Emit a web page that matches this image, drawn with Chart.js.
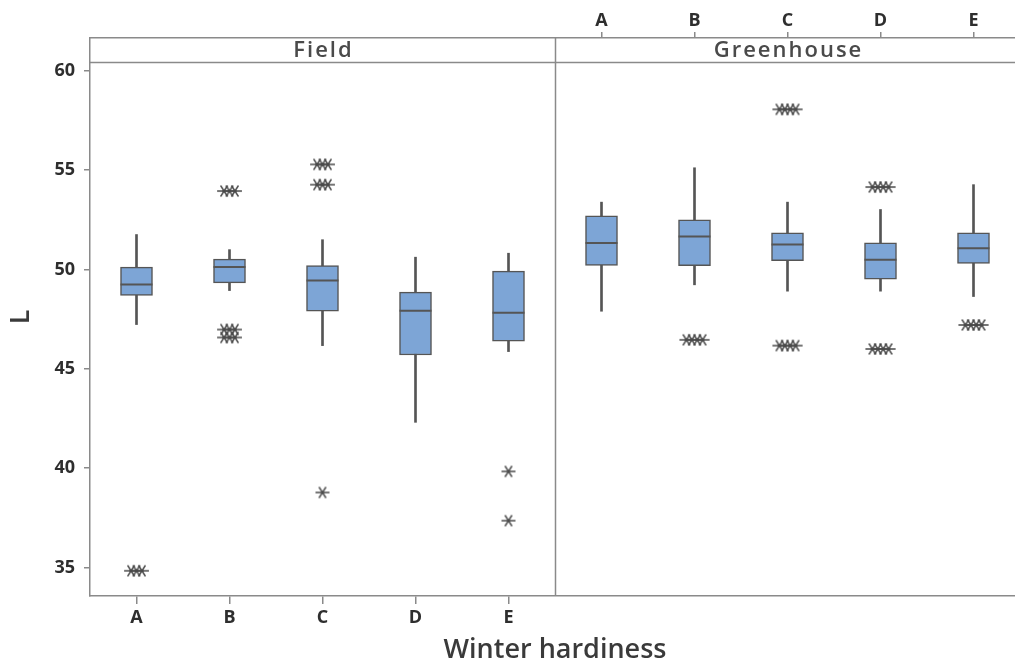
<!DOCTYPE html>
<html><head><meta charset="utf-8">
<script src="https://cdn.jsdelivr.net/npm/chart.js@4.4.0/dist/chart.umd.min.js"></script>
<style>
html,body{margin:0;padding:0;background:#fff;overflow:hidden}
#wrap{width:1015px;height:671px;overflow:hidden;position:relative;background:#fff}
canvas{display:block}
</style></head><body>
<div id="wrap"><canvas id="c" width="1040" height="671"></canvas></div>
<script>
// ---------------- data ----------------
const panels = ['Field', 'Greenhouse'];
const categories = ['A', 'B', 'C', 'D', 'E'];
const yTickValues = [35, 40, 45, 50, 55, 60];
const yAxisMin = 33.57;
const yAxisMax = 61.65;

const fieldWhiskerLow  = [47.23, 48.94, 46.17, 42.31, 45.87];
const fieldQ1          = [48.69, 49.33, 47.90, 45.70, 46.39];
const fieldMedian      = [49.24, 50.12, 49.45, 47.92, 47.82];
const fieldQ3          = [50.12, 50.52, 50.20, 48.86, 49.92];
const fieldWhiskerHigh = [51.76, 51.00, 51.50, 50.62, 50.82];
const fieldOutliers = [
  [34.84, 34.84, 34.84],
  [53.95, 53.95, 53.95, 46.98, 46.98, 46.98, 46.58, 46.58, 46.58],
  [55.29, 55.29, 55.29, 54.27, 54.27, 54.27, 38.78],
  [],
  [39.84, 37.36]
];

const greenWhiskerLow  = [47.90, 49.23, 48.91, 48.91, 48.64];
const greenQ1          = [50.20, 50.19, 50.45, 49.51, 50.30];
const greenMedian      = [51.34, 51.66, 51.26, 50.49, 51.07];
const greenQ3          = [52.70, 52.50, 51.85, 51.34, 51.85];
const greenWhiskerHigh = [53.39, 55.12, 53.39, 53.02, 54.27];
const greenOutliers = [
  [],
  [46.46, 46.46, 46.46, 46.46],
  [58.06, 58.06, 58.06, 58.06, 46.17, 46.17, 46.17, 46.17],
  [54.15, 54.15, 54.15, 54.15, 46.00, 46.00, 46.00, 46.00],
  [47.21, 47.21, 47.21, 47.21]
];

// ---------------- build ----------------
const N = categories.length;
const panelStats = [
  {low: fieldWhiskerLow, q1: fieldQ1, med: fieldMedian, q3: fieldQ3, high: fieldWhiskerHigh, out: fieldOutliers},
  {low: greenWhiskerLow, q1: greenQ1, med: greenMedian, q3: greenQ3, high: greenWhiskerHigh, out: greenOutliers}
];
const whiskerData = [], boxData = [], medianData = [], outlierData = [];
const dupSpacing = 0.058;
panelStats.forEach((s, p) => {
  categories.forEach((c, i) => {
    const x = p * N + i;
    whiskerData.push({x, y: [s.low[i], s.high[i]]});
    boxData.push({x, y: [s.q1[i], s.q3[i]]});
    medianData.push({x, y: s.med[i]});
    const counts = {};
    s.out[i].forEach(v => { counts[v] = (counts[v] || 0) + 1; });
    Object.keys(counts).forEach(k => {
      const n = counts[k];
      for (let j = 0; j < n; j++) {
        outlierData.push({x: x + (j - (n - 1) / 2) * dupSpacing, y: parseFloat(k)});
      }
    });
  });
});

function makeAsterisk() {
  const c = document.createElement('canvas');
  c.width = 16; c.height = 14;
  const g = c.getContext('2d');
  g.strokeStyle = '#4a4a4a';
  g.lineWidth = 1.4;
  g.beginPath();
  g.moveTo(1, 7); g.lineTo(15, 7);
  g.moveTo(4.5, 1.5); g.lineTo(11.5, 12.5);
  g.moveTo(11.5, 1.5); g.lineTo(4.5, 12.5);
  g.stroke();
  return c;
}
const asterisk = makeAsterisk();

const axisGray = '#8a8a8a';
const darkLine = '#555555';
const labelColor = '#2e2e2e';
Chart.defaults.font.family = "'Open Sans', 'Noto Sans', sans-serif";

const stripPlugin = {
  id: 'strips',
  afterDraw(chart) {
    const {ctx, chartArea} = chart;
    const {left, right, top, bottom} = chartArea;
    const xs = chart.scales.x;
    const stripH = 24;
    ctx.save();
    ctx.strokeStyle = axisGray;
    ctx.lineWidth = 1.5;
    ctx.beginPath();
    ctx.moveTo(left, top + stripH + 0.5);
    ctx.lineTo(right, top + stripH + 0.5);
    const dx = Math.round(xs.getPixelForValue(N - 0.5)) + 0.5;
    ctx.moveTo(dx, top);
    ctx.lineTo(dx, bottom);
    ctx.stroke();
    ctx.fillStyle = '#4a4a4a';
    ctx.font = "600 22px 'Open Sans', sans-serif";
    ctx.textAlign = 'center';
    ctx.textBaseline = 'middle';
    try { ctx.letterSpacing = '2px'; } catch (e) {}
    panels.forEach((name, p) => {
      const cx = xs.getPixelForValue(p * N + (N - 1) / 2);
      ctx.fillText(name, cx + 1, top + stripH / 2 + 0.5);
    });
    ctx.restore();
  }
};

const tickFont = {size: 18, weight: 'bold'};

new Chart(document.getElementById('c'), {
  type: 'bar',
  data: {
    datasets: [
      {type: 'bar', label: 'whisker', data: whiskerData, barThickness: 2, backgroundColor: darkLine,
       borderWidth: 0, grouped: false, order: 3},
      {type: 'bar', label: 'box', data: boxData, barThickness: 32, backgroundColor: '#7DA5D6',
       borderColor: darkLine, borderWidth: 1.5, borderSkipped: false, grouped: false, order: 2},
      {type: 'scatter', label: 'median', data: medianData, pointStyle: 'line', pointRadius: 16,
       borderColor: darkLine, borderWidth: 2, order: 1},
      {type: 'scatter', label: 'outliers', data: outlierData, pointStyle: asterisk, pointRadius: 7,
       order: 0}
    ]
  },
  options: {
    responsive: false,
    animation: false,
    devicePixelRatio: 1,
    layout: {padding: {left: 0, right: 20, top: 0, bottom: 0}},
    plugins: {legend: {display: false}, tooltip: {enabled: false}},
    scales: {
      x: {
        type: 'linear', position: 'bottom', min: -0.5, max: 2 * N - 0.5, offset: false,
        afterBuildTicks: s => { s.ticks = Array.from({length: 2 * N}, (_, v) => ({value: v})); },
        afterFit: s => { s.height = 75; },
        ticks: {autoSkip: false, maxRotation: 0, padding: 3, color: labelColor, font: tickFont,
                callback: v => (v < N ? categories[v] : '')},
        grid: {offset: false, drawOnChartArea: false, tickLength: 8, lineWidth: 1.5,
               tickColor: c => (c.tick && c.tick.value < N ? axisGray : 'rgba(0,0,0,0)')},
        border: {color: axisGray, width: 1.5},
        title: {display: true, text: 'Winter hardiness', color: '#3a3a3a',
                font: {size: 27, weight: '600'}, padding: {top: 0, bottom: 4}}
      },
      x2: {
        type: 'linear', position: 'top', min: -0.5, max: 2 * N - 0.5, offset: false,
        afterBuildTicks: s => { s.ticks = Array.from({length: 2 * N}, (_, v) => ({value: v})); },
        afterFit: s => { s.height = 38; },
        ticks: {autoSkip: false, maxRotation: 0, padding: 0, color: labelColor, font: tickFont,
                callback: v => (v >= N ? categories[v - N] : '')},
        grid: {offset: false, drawOnChartArea: false, tickLength: 6, lineWidth: 1.5,
               tickColor: c => (c.tick && c.tick.value >= N ? axisGray : 'rgba(0,0,0,0)')},
        border: {color: axisGray, width: 1.5}
      },
      y: {
        type: 'linear', position: 'left', min: yAxisMin, max: yAxisMax,
        afterBuildTicks: s => { s.ticks = yTickValues.map(v => ({value: v})); },
        afterFit: s => { s.width = 90; },
        ticks: {padding: 9, color: labelColor, font: tickFont},
        grid: {drawOnChartArea: false, tickLength: 6, lineWidth: 1.5, tickColor: axisGray},
        border: {color: axisGray, width: 1.5},
        title: {display: true, text: 'L', color: '#3a3a3a', font: {size: 27, weight: '600'},
                padding: {top: 5, bottom: 0}}
      }
    }
  },
  plugins: [stripPlugin]
});
</script>
</body></html>
